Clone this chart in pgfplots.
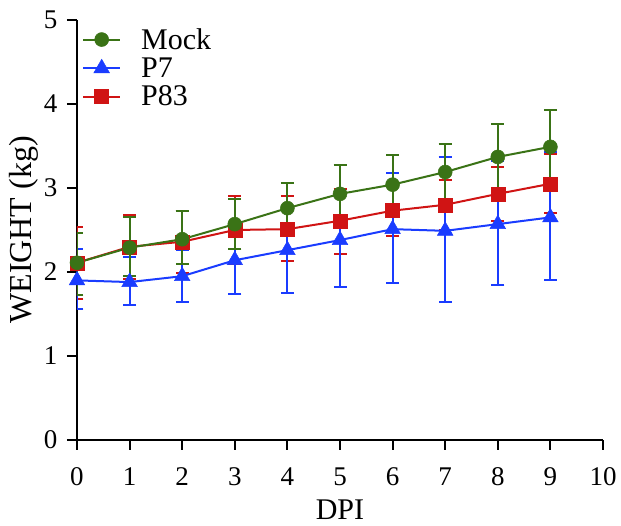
\documentclass[border=0pt]{standalone}
\usepackage{pgfplots}
\pgfplotsset{compat=1.18}
\usepackage{pgfplotstable}
\usepackage{fontspec}
\setmainfont{Liberation Serif}
\definecolor{cgreen}{RGB}{58,115,22}
\definecolor{cblue}{RGB}{26,60,255}
\definecolor{cred}{RGB}{208,20,20}
\pgfplotstableread{
x y ep em
0 2.11 0.36 0.38
1 2.29 0.36 0.34
2 2.39 0.34 0.30
3 2.57 0.30 0.30
4 2.76 0.30 0.31
5 2.93 0.34 0.34
6 3.04 0.35 0.34
7 3.19 0.33 0.33
8 3.37 0.39 0.39
9 3.49 0.44 0.44
}\mock
\pgfplotstableread{
x y ep em
0 2.11 0.43 0.43
1 2.30 0.38 0.38
2 2.36 0.37 0.37
3 2.50 0.41 0.41
4 2.51 0.39 0.38
5 2.61 0.38 0.39
6 2.73 0.32 0.30
7 2.80 0.30 0.30
8 2.93 0.32 0.32
9 3.05 0.35 0.35
}\pee
\pgfplotstableread{
x y ep em
0 1.90 0.37 0.34
1 1.88 0.30 0.27
2 1.95 0.31 0.31
3 2.14 0.40 0.40
4 2.26 0.51 0.51
5 2.38 0.56 0.56
6 2.51 0.67 0.64
7 2.49 0.88 0.85
8 2.57 0.75 0.72
9 2.65 0.78 0.75
}\pseven
\pgfplotsset{myerr/.style={error bars/.cd, y dir=both, y explicit,
    error mark options={rotate=90, mark size=6.5pt, line width=2pt},
    error bar style={line width=2pt}}}
\begin{document}
\begin{tikzpicture}
\begin{axis}[
  name=ax,
  scale only axis, width=526pt, height=420pt,
  xmin=0, xmax=10, ymin=0, ymax=5,
  axis lines=left,
  axis line style={-, line width=2pt, black},
  xtick={0,...,10}, ytick={0,...,5},
  tick style={black, line width=2pt},
  tick align=outside, major tick length=10pt,
  tick label style={font=\fontsize{27}{30}\selectfont},
  xticklabel style={yshift=-14pt},
  yticklabel style={xshift=-6pt},
  /pgf/number format/assume math mode=true,
  xlabel={DPI}, ylabel={WEIGHT (kg)},
  xlabel style={at={([yshift=-80pt]axis description cs:0.5,0)}, anchor=base, font=\fontsize{30}{34}\selectfont},
  ylabel style={at={([xshift=-45pt]axis description cs:0,0.5)}, anchor=base, font=\fontsize{32}{36}\selectfont},
  reverse legend,
  legend cell align=left,
  legend style={at={(0.0,0.99)}, anchor=north west, draw=none, fill=none,
    font=\fontsize{30}{33}\selectfont, row sep=3pt, column sep=18pt, inner xsep=5pt},
  legend image code/.code={\draw[mark repeat=2,mark phase=2] plot coordinates {(0cm,0cm) (0.65cm,0cm) (1.3cm,0cm)};},
]
\addplot[color=cred, line width=2pt, mark=square*, mark size=7pt, mark options={solid, line width=0.5pt}, myerr]
  table[x=x, y=y, y error plus=ep, y error minus=em] {\pee};
\addlegendentry{P83}
\addplot[color=cblue, line width=2pt, mark=triangle*, mark size=9pt, mark options={solid, line width=0.5pt}, myerr]
  table[x=x, y=y, y error plus=ep, y error minus=em] {\pseven};
\addlegendentry{P7}
\addplot[color=cgreen, line width=2pt, mark=*, mark size=7pt, mark options={solid, line width=0.5pt}, myerr]
  table[x=x, y=y, y error plus=ep, y error minus=em] {\mock};
\addlegendentry{Mock}
\end{axis}
\path ([shift={(-77pt,-86pt)}]ax.south west) rectangle ([shift={(18pt,20pt)}]ax.north east);
\end{tikzpicture}
\end{document}
